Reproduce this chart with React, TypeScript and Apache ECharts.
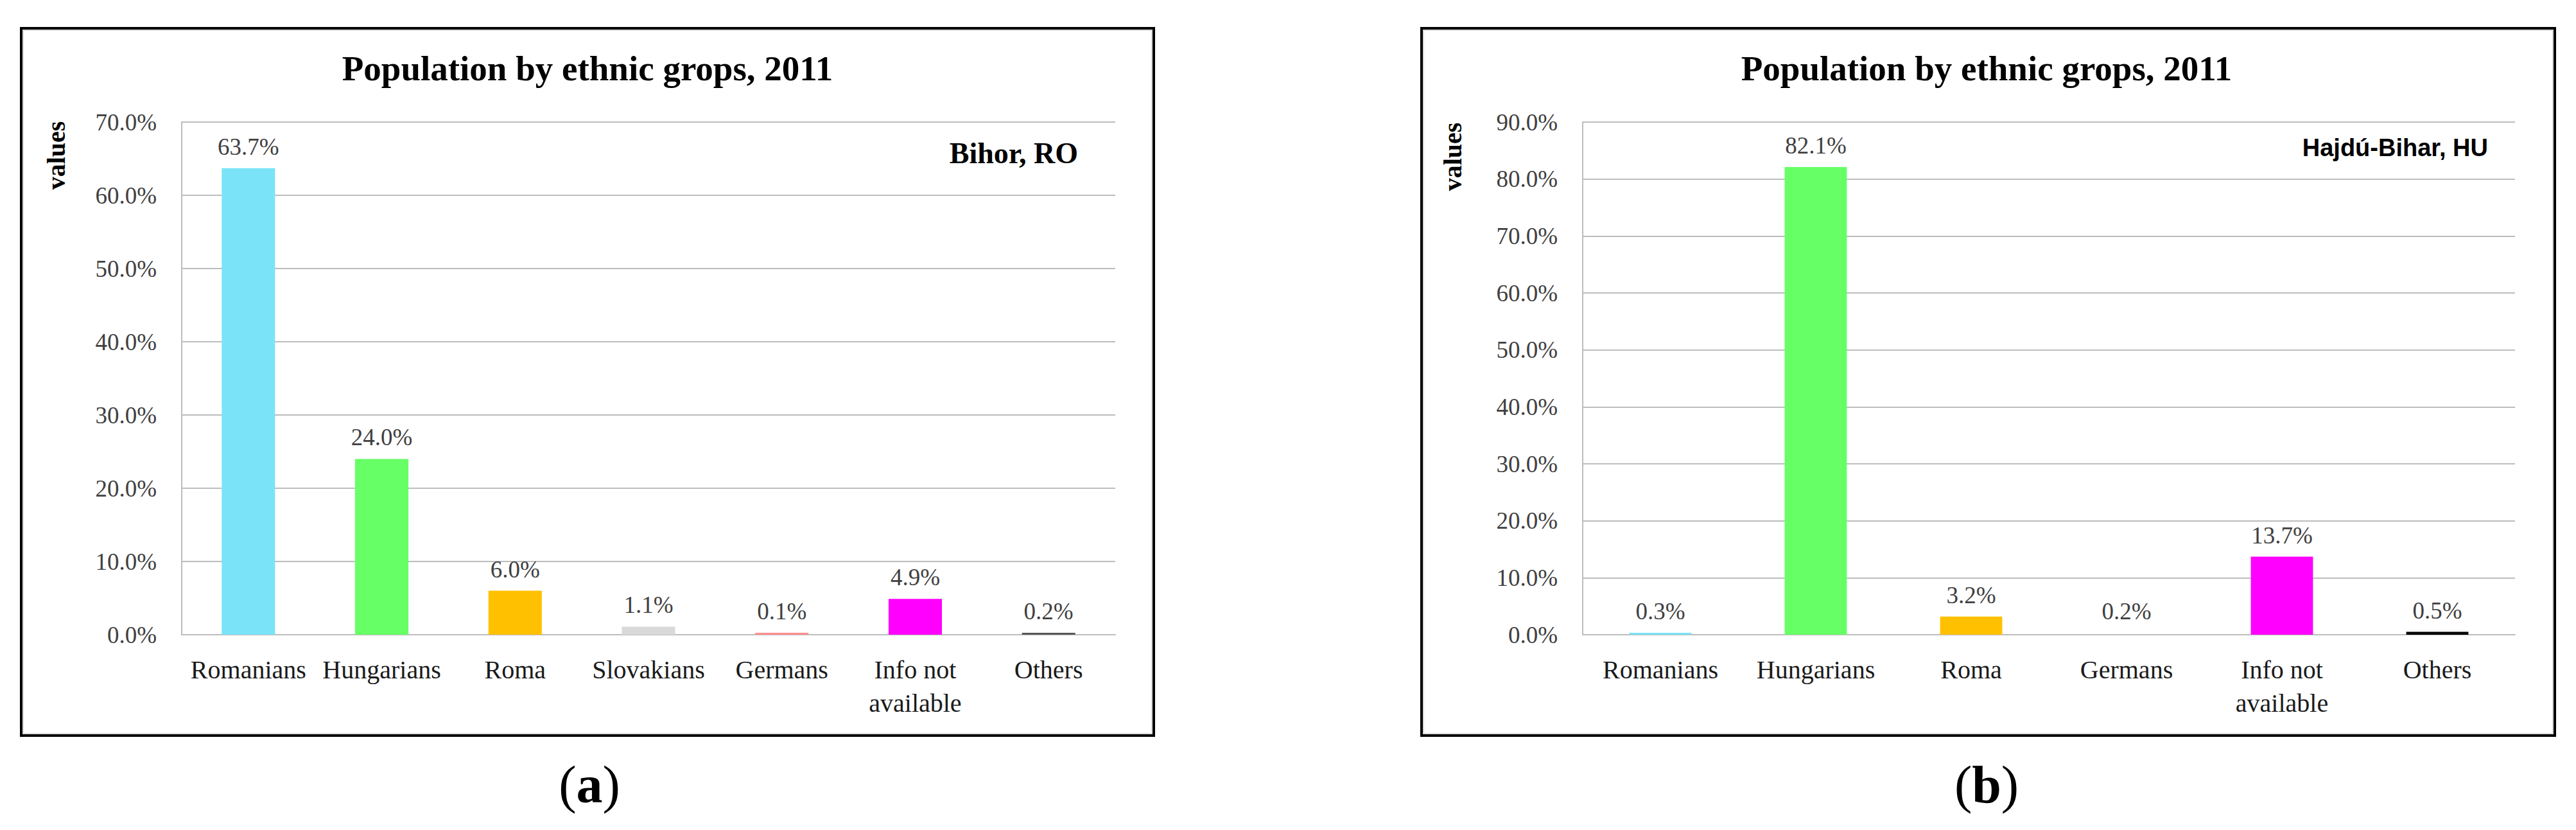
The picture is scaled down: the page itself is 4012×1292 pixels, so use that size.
import React, { useEffect, useRef } from "react";
import * as echarts from "echarts";

// ---- data ----
const categoriesA = ["Romanians", "Hungarians", "Roma", "Slovakians", "Germans", "Info not\navailable", "Others"];
const valuesA = [63.7, 24.0, 6.0, 1.1, 0.1, 4.9, 0.2];
const categoriesB = ["Romanians", "Hungarians", "Roma", "Germans", "Info not\navailable", "Others"];
const valuesB = [0.3, 82.1, 3.2, 0.2, 13.7, 0.5];
const yTicksA = { min: 0, max: 70, interval: 10 };
const yTicksB = { min: 0, max: 90, interval: 10 };
const titleText = "Population by ethnic grops, 2011";
const regionA = "Bihor, RO";
const regionB = "Hajdú-Bihar, HU";

// ---- styles ----
const colorsA = ["#7BE3F8", "#66FF66", "#FFC000", "#D9D9D9", "#FF8F8F", "#FF00FF", "#595959"];
const colorsB = ["#7BE3F8", "#66FF66", "#FFC000", "rgba(255,255,255,0)", "#FF00FF", "#000000"];
const SERIF = "'Liberation Serif', 'Times New Roman', serif";
const SANS = "'Liberation Sans', Arial, sans-serif";
const GRID = "#BDBDBD";

function yAxisOf(gridIndex: number, t: { min: number; max: number; interval: number }) {
  return {
    type: "value",
    gridIndex,
    min: t.min,
    max: t.max,
    interval: t.interval,
    axisLine: { show: true, lineStyle: { color: GRID, width: 2 } },
    axisTick: { show: false },
    splitLine: { show: true, lineStyle: { color: GRID, width: 2 } },
    axisLabel: {
      margin: 39,
      color: "#404040",
      fontFamily: SERIF,
      fontSize: 37,
      formatter: (v: number) => v.toFixed(1) + "%",
    },
  };
}

function xAxisOf(gridIndex: number, cats: string[]) {
  return {
    type: "category",
    gridIndex,
    data: cats,
    axisLine: { show: true, lineStyle: { color: GRID, width: 2 } },
    axisTick: { show: false },
    axisLabel: {
      interval: 0,
      margin: 28,
      color: "#1a1a1a",
      fontFamily: SERIF,
      fontSize: 40,
      lineHeight: 52,
    },
  };
}

function seriesOf(idx: number, vals: number[], colors: string[]) {
  return {
    type: "bar",
    xAxisIndex: idx,
    yAxisIndex: idx,
    barWidth: "40%",
    barMinHeight: 3,
    data: vals.map((v, i) => ({ value: v, itemStyle: { color: colors[i] } })),
    label: {
      show: true,
      position: "top",
      distance: 15,
      color: "#404040",
      fontFamily: SERIF,
      fontSize: 37,
      formatter: (p: any) => Number(p.value).toFixed(1) + "%",
    },
  };
}

function frame(x1: number, y1: number, x2: number, y2: number) {
  return [
    {
      type: "rect",
      shape: { x: x1 + 2, y: y1 + 2, width: x2 - x1 - 4, height: y2 - y1 - 4 },
      style: { fill: "none", stroke: "#000", lineWidth: 4 },
      silent: true,
      z: 10,
    },
    {
      type: "rect",
      shape: { x: x1 + 5, y: y1 + 5, width: x2 - x1 - 10, height: y2 - y1 - 10 },
      style: { fill: "none", stroke: "#DADADA", lineWidth: 2 },
      silent: true,
      z: 10,
    },
  ];
}

function txt(x: number, y: number, text: string, style: any, rotation = 0) {
  return {
    type: "text",
    x,
    y,
    rotation,
    silent: true,
    z: 11,
    style: { text, ...style },
  };
}

export default function App() {
  const ref = useRef<HTMLDivElement>(null);
  useEffect(() => {
    document.body.style.margin = "0";
    if (!ref.current) return;
    const chart = echarts.init(ref.current, undefined, { renderer: "svg" });
    const option: any = {
      animation: false,
      backgroundColor: "#ffffff",
      grid: [
        { left: 283, right: 4012 - 1737, top: 190, bottom: 1292 - 988 },
        { left: 2465, right: 4012 - 3917, top: 190, bottom: 1292 - 988 },
      ],
      xAxis: [xAxisOf(0, categoriesA), xAxisOf(1, categoriesB)],
      yAxis: [yAxisOf(0, yTicksA), yAxisOf(1, yTicksB)],
      series: [seriesOf(0, valuesA, colorsA), seriesOf(1, valuesB, colorsB)],
      graphic: [
        ...frame(31, 42, 1799, 1147),
        ...frame(2212, 42, 3981, 1147),
        txt(915, 106, titleText, {
          fontFamily: SERIF, fontSize: 55, fontWeight: "bold", fill: "#000",
          align: "center", verticalAlign: "middle",
        }),
        txt(3094, 106, titleText, {
          fontFamily: SERIF, fontSize: 55, fontWeight: "bold", fill: "#000",
          align: "center", verticalAlign: "middle",
        }),
        txt(1679, 238, regionA, {
          fontFamily: SERIF, fontSize: 46, fontWeight: "bold", fill: "#000",
          align: "right", verticalAlign: "middle",
        }),
        txt(3875, 230, regionB, {
          fontFamily: SANS, fontSize: 38, fontWeight: "bold", fill: "#000",
          align: "right", verticalAlign: "middle",
        }),
        txt(87, 242, "values", {
          fontFamily: SERIF, fontSize: 40, fontWeight: "bold", fill: "#000",
          align: "center", verticalAlign: "middle",
        }, Math.PI / 2),
        txt(2262, 244, "values", {
          fontFamily: SERIF, fontSize: 40, fontWeight: "bold", fill: "#000",
          align: "center", verticalAlign: "middle",
        }, Math.PI / 2),
        txt(918, 1221, "{p|(}{b|a}{p|)}", {
          align: "center", verticalAlign: "middle",
          rich: {
            p: { fontFamily: SERIF, fontSize: 82, fill: "#000", color: "#000" },
            b: { fontFamily: SERIF, fontSize: 82, fontWeight: "bold", fill: "#000", color: "#000" },
          },
        }),
        txt(3094, 1221, "{p|(}{b|b}{p|)}", {
          align: "center", verticalAlign: "middle",
          rich: {
            p: { fontFamily: SERIF, fontSize: 82, fill: "#000", color: "#000" },
            b: { fontFamily: SERIF, fontSize: 82, fontWeight: "bold", fill: "#000", color: "#000" },
          },
        }),
      ],
    };
    chart.setOption(option);
    return () => chart.dispose();
  }, []);
  return <div ref={ref} style={{ width: 4012, height: 1292 }} />;
}
